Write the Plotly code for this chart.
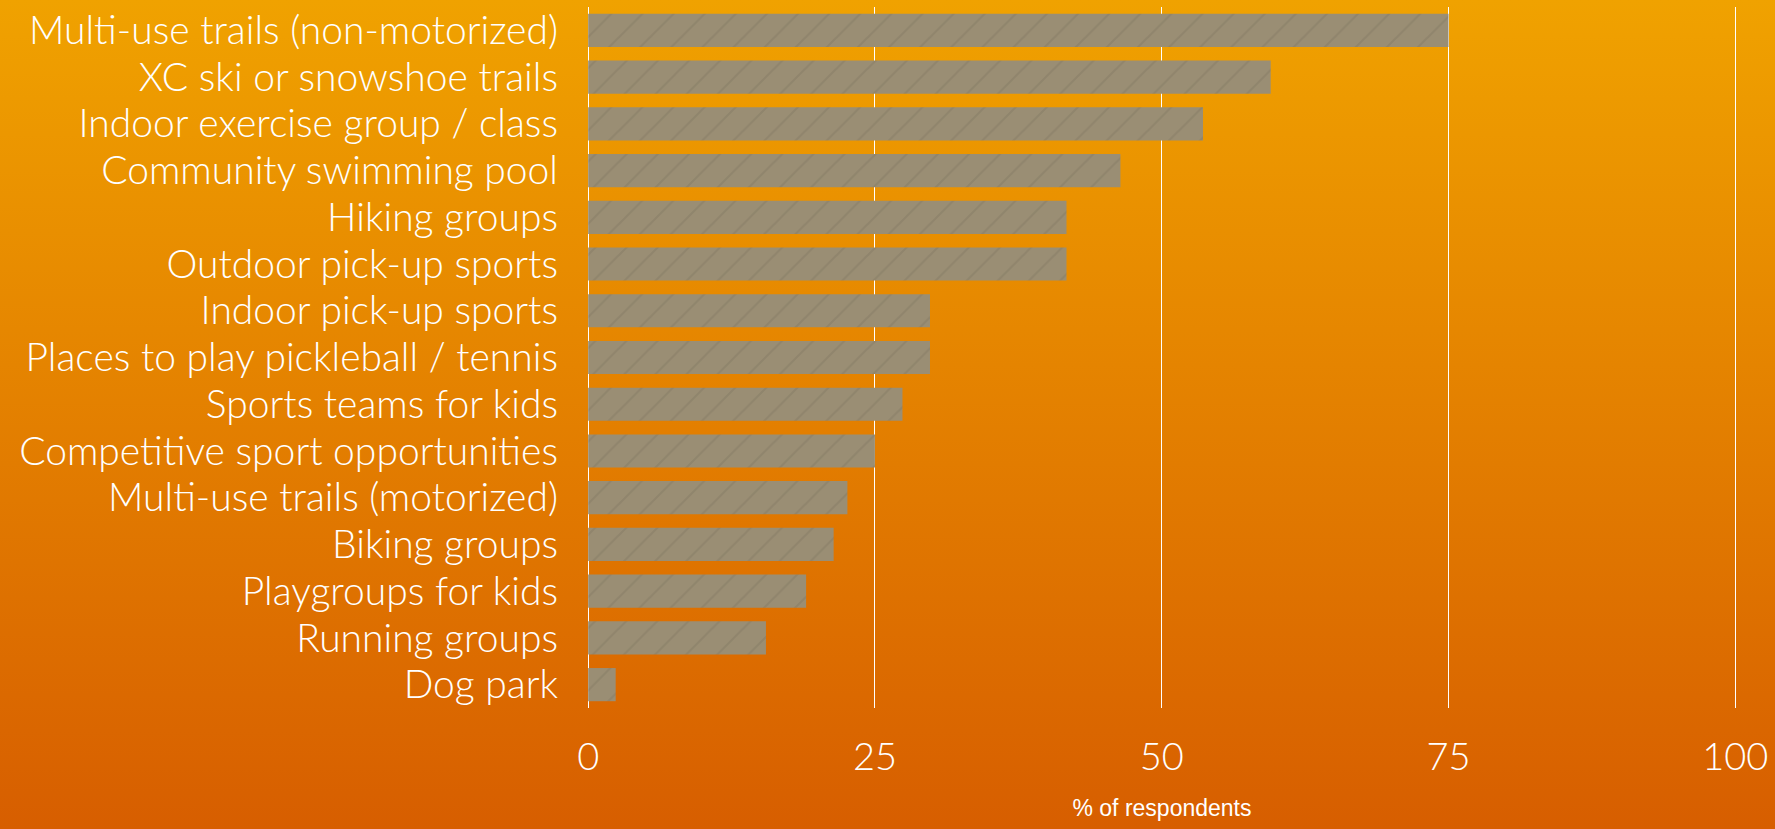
import base64
import plotly.graph_objects as go

categories = [
    "Multi-use trails (non-motorized)",
    "XC ski or snowshoe trails",
    "Indoor exercise group / class",
    "Community swimming pool",
    "Hiking groups",
    "Outdoor pick-up sports",
    "Indoor pick-up sports",
    "Places to play pickleball / tennis",
    "Sports teams for kids",
    "Competitive sport opportunities",
    "Multi-use trails (motorized)",
    "Biking groups",
    "Playgroups for kids",
    "Running groups",
    "Dog park",
]
percent = [75.0, 59.5, 53.6, 46.4, 41.7, 41.7, 29.8, 29.8, 27.4, 25.0, 22.6, 21.4, 19.0, 15.5, 2.4]
x_ticks = [0, 25, 50, 75, 100]
x_title = "% of respondents"

W, H = 1775, 829
L, R, T, B = 587, 38, 7, 121
pw, ph = W - L - R, H - T - B

svg = (
    '<svg xmlns="http://www.w3.org/2000/svg" width="100" height="100" preserveAspectRatio="none">'
    '<defs><linearGradient id="g" x1="0" y1="0" x2="0" y2="1">'
    '<stop offset="0" stop-color="rgb(240,162,0)"/>'
    '<stop offset="1" stop-color="rgb(215,94,0)"/>'
    '</linearGradient></defs><rect width="100" height="100" fill="url(#g)"/></svg>'
)
bg_src = "data:image/svg+xml;base64," + base64.b64encode(svg.encode()).decode()

fig = go.Figure(
    go.Bar(
        y=categories,
        x=percent,
        orientation="h",
        width=0.71,
        marker=dict(
            color="#9a8e74",
            line=dict(width=0),
            pattern=dict(shape="/", fgcolor="#6a6150", fgopacity=0.22, size=22, solidity=0.1),
        ),
        hoverinfo="x+y",
    )
)

fig.update_layout(
    width=W,
    height=H,
    margin=dict(l=L, r=R, t=T, b=B, autoexpand=False),
    paper_bgcolor="rgb(228,128,0)",
    plot_bgcolor="rgba(0,0,0,0)",
    showlegend=False,
    font=dict(family="Lato", color="white", size=39, weight=300),
    images=[
        dict(
            source=bg_src,
            xref="paper",
            yref="paper",
            x=-L / pw,
            y=1 + T / ph,
            sizex=W / pw,
            sizey=H / ph,
            sizing="stretch",
            xanchor="left",
            yanchor="top",
            layer="below",
        )
    ],
)

fig.update_xaxes(
    range=[-0.1, 100.15],
    tickmode="array",
    tickvals=x_ticks,
    ticktext=[str(v) for v in x_ticks],
    showgrid=True,
    gridcolor="white",
    gridwidth=1.3,
    zeroline=True,
    zerolinecolor="white",
    zerolinewidth=1.3,
    showline=False,
    ticks="",
    tickfont=dict(family="Lato", size=38, color="white", weight=300),
    ticklabelstandoff=23,
    title=dict(
        text=x_title,
        font=dict(family="Liberation Sans", size=23, color="white"),
        standoff=22,
    ),
    automargin=False,
    fixedrange=True,
)

fig.update_yaxes(
    categoryorder="array",
    categoryarray=categories,
    tickmode="array",
    tickvals=categories,
    ticktext=categories,
    autorange="reversed",
    showgrid=False,
    zeroline=False,
    showline=False,
    ticks="",
    tickfont=dict(family="Lato", size=39, color="white", weight=300),
    ticklabelstandoff=28,
    automargin=False,
    fixedrange=True,
)

fig.write_html(
    "out.html",
    config={"displayModeBar": False},
    post_script="document.body.style.margin='0';document.body.style.padding='0';document.documentElement.style.margin='0';document.body.style.overflow='hidden';",
)
